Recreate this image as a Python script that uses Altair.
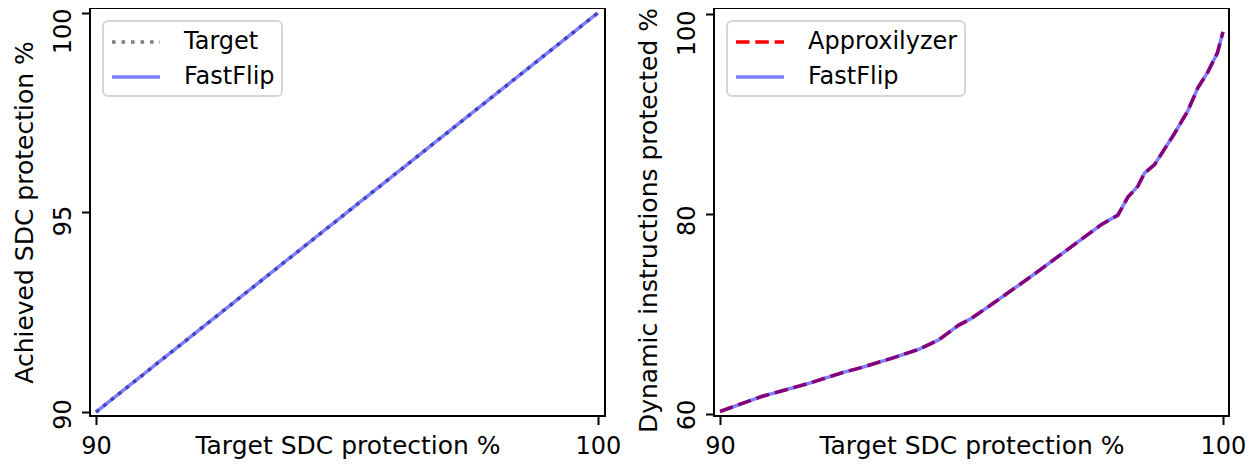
import altair as alt
import pandas as pd

# ---- data ----
left_target_x = [90, 92, 94, 96, 98, 100]
left_target_y = [90, 92, 94, 96, 98, 100]
left_fastflip_y = [90, 92, 94, 96, 98, 100]

right_x = [90.0, 90.83, 91.76, 92.48, 92.82, 93.47, 93.95, 94.35, 94.74, 95.0,
           95.46, 96.19, 96.92, 97.58, 97.91, 98.11, 98.31, 98.44, 98.64, 99.03,
           99.3, 99.5, 99.7, 99.89, 100.0]
right_approxilyzer = [60.3, 61.8, 63.1, 64.25, 64.7, 65.7, 66.5, 67.45, 68.9, 69.6,
                      71.2, 73.8, 76.5, 78.95, 79.9, 81.7, 82.8, 84.1, 84.95, 88.0,
                      90.3, 92.6, 94.2, 96.1, 98.2]
right_fastflip = [60.3, 61.8, 63.1, 64.25, 64.7, 65.7, 66.5, 67.45, 68.9, 69.6,
                  71.2, 73.8, 76.5, 78.95, 79.9, 81.7, 82.8, 84.1, 84.95, 88.0,
                  90.3, 92.6, 94.2, 96.1, 98.2]

left_series = ["Target", "FastFlip"]
right_series = ["Approxilyzer", "FastFlip"]
x_ticks = [90, 100]
left_y_ticks = [90, 95, 100]
right_y_ticks = [60, 80, 100]

FONT = "DejaVu Sans"
FS = 24
TFS = 25
W, H = 515, 408
LW = 3.5


def frame(xs, ys, name):
    return pd.DataFrame({"x": xs, "y": ys, "series": [name] * len(xs)})


def panel(dfs, names, colors, dashes, opac, xdom, ydom, yticks, ytitle, offs, tshift):
    leg = alt.Legend(
        title=None, orient="none", legendX=13, legendY=13, direction="vertical",
        symbolType="M-2,0H2", symbolSize=576, symbolStrokeWidth=LW,
        symbolOffset=12, labelOffset=34, rowPadding=9, padding=7,
        labelFont=FONT, labelFontSize=FS, labelColor="black", labelLimit=400,
    )
    y_offset = {
        "condition": [
            {"test": f"datum.value == {yticks[2]}", "value": offs[2]},
            {"test": f"datum.value == {yticks[1]}", "value": offs[1]},
        ],
        "value": offs[0],
    }
    enc = dict(
        x=alt.X("x:Q", scale=alt.Scale(domain=xdom, nice=False, zero=False),
                axis=alt.Axis(values=x_ticks, title="Target SDC protection %",
                              labelAngle=0, labelBaseline="alphabetic",
                              labelPadding=28.5, titleY=37,
                              titleBaseline="alphabetic")),
        y=alt.Y("y:Q", scale=alt.Scale(domain=ydom, nice=False, zero=False),
                axis=alt.Axis(values=yticks, title=ytitle, labelAngle=270,
                              labelAlign="center", labelBaseline="alphabetic",
                              labelPadding=11.5, labelOffset=y_offset,
                              titleX=-58, titleY=H / 2 + tshift,
                              titleBaseline="alphabetic")),
        color=alt.Color("series:N", scale=alt.Scale(domain=names, range=colors), legend=leg),
        strokeDash=alt.StrokeDash("series:N", scale=alt.Scale(domain=names, range=dashes), legend=leg),
        opacity=alt.Opacity("series:N", scale=alt.Scale(domain=names, range=opac), legend=leg),
    )
    layers = [
        alt.Chart(d).mark_line(strokeWidth=LW, strokeCap="butt").encode(**enc)
        for d in dfs
    ]
    return alt.layer(*layers).properties(width=W, height=H)


left = panel(
    [frame(left_target_x, left_target_y, "Target"),
     frame(left_target_x, left_fastflip_y, "FastFlip")],
    left_series, ["#808080", "#0000ff"], [[3.6, 5.9], [1, 0]], [1, 0.5],
    [89.88, 100.14], [89.9, 100.12], left_y_ticks,
    "Achieved SDC protection %", [2, 8, 18], 0,
)

right = panel(
    [frame(right_x, right_approxilyzer, "Approxilyzer"),
     frame(right_x, right_fastflip, "FastFlip")],
    right_series, ["#ff0000", "#0000ff"], [[13.5, 5.8], [1, 0]], [1, 0.5],
    [89.88, 100.12], [59.85, 100.58], right_y_ticks,
    "Dynamic instructions protected %", [0, 6, 19], 8,
)

chart = (
    alt.hconcat(left, right, spacing=12)
    .resolve_scale(color="independent", strokeDash="independent",
                   opacity="independent", x="independent", y="independent")
    .resolve_legend(color="independent", strokeDash="independent",
                    opacity="independent")
    .properties(padding={"left": 3, "top": -4, "right": 0, "bottom": 0},
                background="white")
    .configure_view(stroke="black", strokeWidth=2)
    .configure_axis(domain=False, grid=False, tickColor="black", tickWidth=2,
                    tickSize=8.5, labelFont=FONT, labelFontSize=FS,
                    labelColor="black", titleFont=FONT, titleFontSize=TFS,
                    titleFontWeight="normal", titleColor="black",
                    labelFlush=False, labelOverlap=False)
    .configure_legend(strokeColor="#d6d6d6", strokeWidth=2, cornerRadius=5,
                      fillColor="white")
)

chart.save("out.html", embed_options={"renderer": "svg", "actions": False})
